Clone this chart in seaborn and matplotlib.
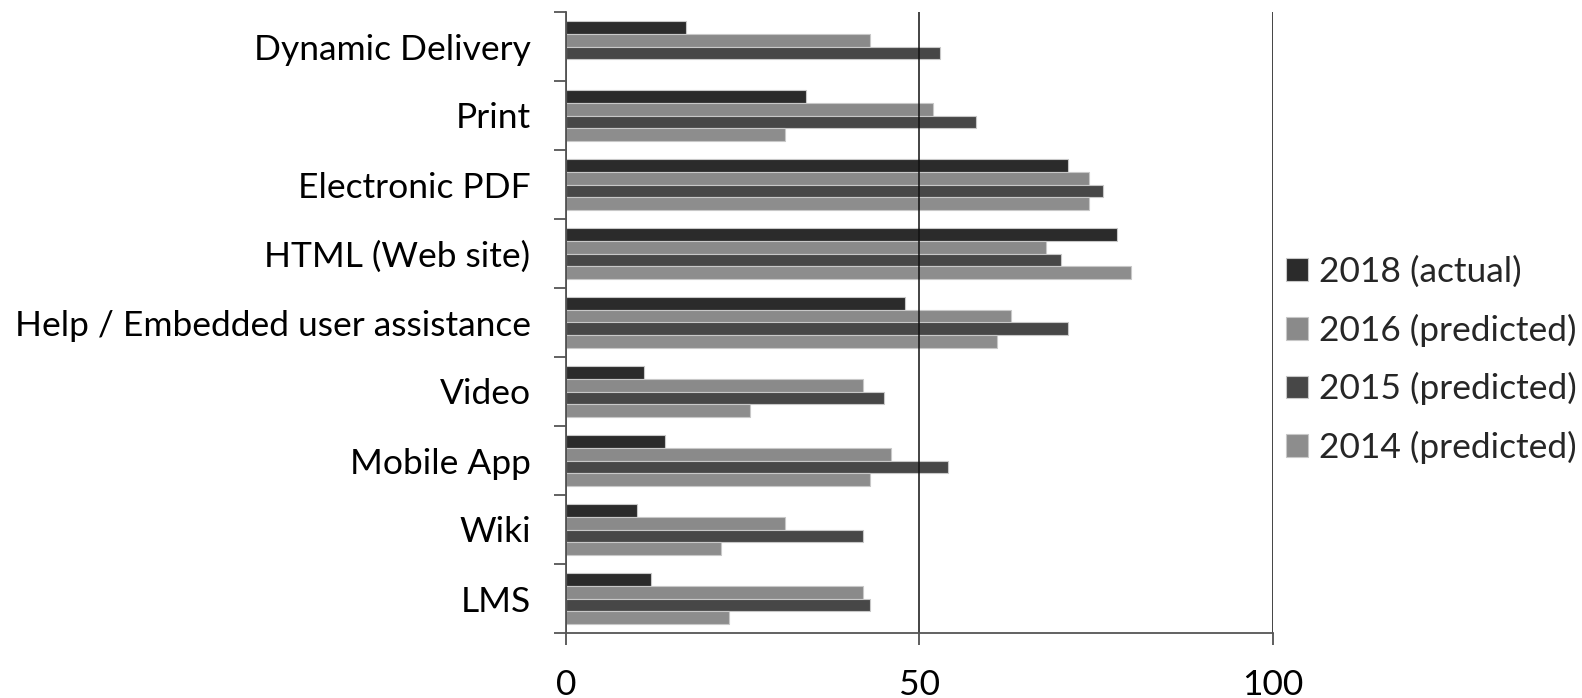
import numpy as np
import pandas as pd
import matplotlib
matplotlib.use("Agg")
import matplotlib.pyplot as plt
import seaborn as sns
from matplotlib.ticker import FixedLocator

categories = [
    "Dynamic Delivery",
    "Print",
    "Electronic PDF",
    "HTML (Web site)",
    "Help / Embedded user assistance",
    "Video",
    "Mobile App",
    "Wiki",
    "LMS",
]
series_names = ["2018 (actual)", "2016 (predicted)", "2015 (predicted)", "2014 (predicted)"]
values_2018 = [17, 34, 71, 78, 48, 11, 14, 10, 12]
values_2016 = [43, 52, 74, 68, 63, 42, 46, 31, 42]
values_2015 = [53, 58, 76, 70, 71, 45, 54, 42, 43]
values_2014 = [np.nan, 31, 74, 80, 61, 26, 43, 22, 23]
x_ticks = [0, 50, 100]

colors = ["#2b2b2b", "#8a8a8a", "#474747", "#8d8d8d"]
FS = 25.5

rows = []
for name, vals in zip(series_names, [values_2018, values_2016, values_2015, values_2014]):
    for cat, v in zip(categories, vals):
        if not np.isnan(v):
            rows.append({"category": cat, "series": name, "value": v})
df = pd.DataFrame(rows)

sns.set_style("white")
plt.rcParams["font.family"] = ["Lato", "DejaVu Sans"]

fig = plt.figure(figsize=(15.82, 6.98), dpi=100)
ax = fig.add_axes([566 / 1582, 1 - 633 / 698, 706.6 / 1582, 621 / 698])

sns.barplot(
    data=df, y="category", x="value", hue="series",
    order=categories, hue_order=series_names, palette=colors,
    orient="h", width=0.73, dodge=True, errorbar=None,
    edgecolor="#c8c8c8", linewidth=0.8, ax=ax,
)

ax.set_xlim(0, 100)
ax.set_ylim(len(categories) - 0.5, -0.5)
ax.set_xlabel("")
ax.set_ylabel("")

# category labels at centres, tick marks at the boundaries between groups
ax.yaxis.set_major_locator(FixedLocator(range(len(categories))))
ax.set_yticklabels(categories, fontsize=FS, color="#000000")
ax.yaxis.set_minor_locator(FixedLocator(np.arange(-0.5, len(categories), 1.0)))
ax.tick_params(axis="y", which="major", length=0, pad=25.5)
ax.tick_params(axis="y", which="minor", length=8.6, width=1.3, color="#555555", direction="out", left=True)

ax.set_xticks(x_ticks)
ax.set_xticklabels([str(t) for t in x_ticks], fontsize=FS, color="#000000")
ax.tick_params(axis="x", which="major", length=8.6, width=1.1, color="#333333", direction="out", bottom=True, pad=17)

ax.set_axisbelow(False)
ax.xaxis.grid(True, color="#111111", linewidth=1.1)
ax.yaxis.grid(False)

for side in ["top", "right"]:
    ax.spines[side].set_visible(False)
for side in ["left", "bottom"]:
    ax.spines[side].set_visible(True)
    ax.spines[side].set_color("#555555")
    ax.spines[side].set_linewidth(1.3)
    ax.spines[side].set_zorder(5)

handles, labels = ax.get_legend_handles_labels()
if ax.legend_:
    ax.legend_.remove()
fig.legend(
    handles, labels, loc="center left", bbox_to_anchor=(1286 / 1582, 1 - 360 / 698),
    frameon=False, fontsize=FS, handlelength=0.62, handleheight=0.62,
    handletextpad=0.3, labelspacing=0.72, borderaxespad=0, borderpad=0,
)

fig.savefig("out.png", dpi=100)
